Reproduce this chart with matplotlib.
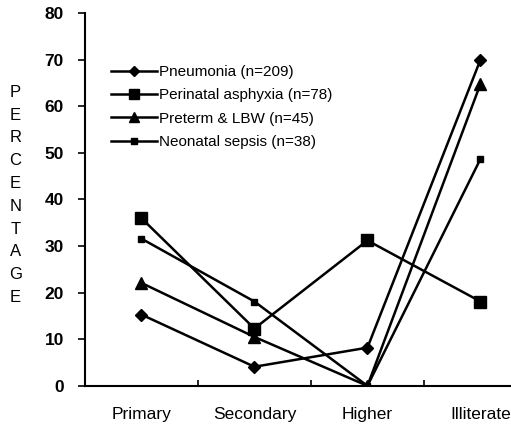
import matplotlib.pyplot as plt

categories = ["Primary", "Secondary", "Higher", "Illiterate"]
pneumonia = [15.3, 4.1, 8.2, 70.0]
asphyxia = [36.0, 12.3, 31.2, 18.1]
preterm = [22.1, 10.5, 0.0, 64.8]
sepsis = [31.6, 18.1, 0.0, 48.7]
labels = [
    "Pneumonia (n=209)",
    "Perinatal asphyxia (n=78)",
    "Preterm & LBW (n=45)",
    "Neonatal sepsis (n=38)",
]

plt.rcParams["font.family"] = ["Liberation Sans", "DejaVu Sans"]

fig = plt.figure(figsize=(5.11, 4.36), dpi=100)
ax = fig.add_axes([0.166, 0.115, 0.834, 0.855])

x = [0.5, 1.5, 2.5, 3.5]
ax.plot(x, pneumonia, color="black", lw=1.8, marker="D", ms=6.5, label=labels[0])
ax.plot(x, asphyxia, color="black", lw=1.8, marker="s", ms=9, label=labels[1])
ax.plot(x, preterm, color="black", lw=1.8, marker="^", ms=9, label=labels[2])
ax.plot(x, sepsis, color="black", lw=1.8, marker="s", ms=5, label=labels[3])

ax.set_xlim(0, 3.77)
ax.set_ylim(0, 80)
ax.set_yticks(range(0, 81, 10))
ax.set_xticks([1, 2, 3])
ax.set_xticklabels([])
ax.set_xticks(x, minor=True)
ax.set_xticklabels(categories, minor=True, fontsize=12.5)
ax.tick_params(axis="x", which="minor", length=0, pad=15)
ax.tick_params(axis="x", which="major", length=4, width=1.2, direction="in")
ax.tick_params(axis="y", length=5, width=1.2, labelsize=12.5, pad=10)
for t in ax.get_yticklabels():
    t.set_fontweight("bold")

ax.spines["top"].set_visible(False)
ax.spines["right"].set_visible(False)
ax.spines["left"].set_linewidth(1.5)
ax.spines["bottom"].set_linewidth(1.5)

leg = ax.legend(loc="upper left", bbox_to_anchor=(0.03, 0.898), frameon=False,
                fontsize=11, handlelength=3.0, handletextpad=0.15,
                labelspacing=0.62, markerscale=0.75)

fig.text(0.03, 0.553, "\n".join("PERCENTAGE"), ha="center", va="center",
         fontsize=12, linespacing=1.65)

fig.savefig("out.png", dpi=100)
